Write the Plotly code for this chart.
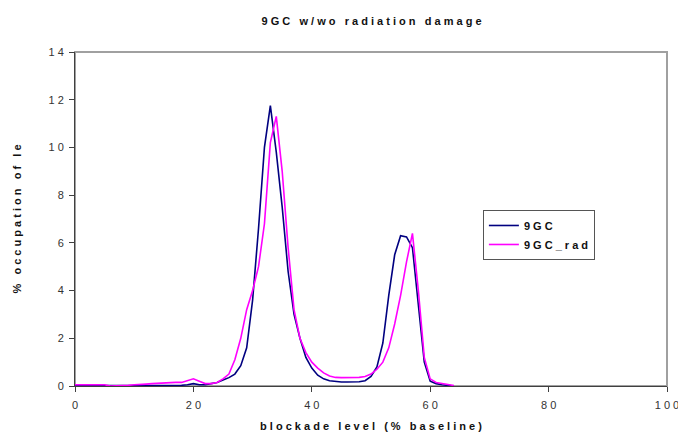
import plotly.graph_objects as go

# blockade level (% baseline), sampled every 1%
levels = list(range(0, 65))

# % occupation, untreated 9GC
occ_9gc = [
    0.02, 0.02, 0.0, 0.0, 0.0, 0.0, 0.0, 0.0, 0.0, 0.0,
    0.0, 0.0, 0.0, 0.0, 0.02, 0.02, 0.02, 0.02, 0.03, 0.05,
    0.10, 0.05, 0.05, 0.10, 0.15, 0.25, 0.35, 0.50, 0.85, 1.60,
    3.60, 6.60, 10.00, 11.75, 9.80, 7.50, 4.80, 3.00, 2.00, 1.20,
    0.75, 0.45, 0.30, 0.22, 0.18, 0.17, 0.17, 0.17, 0.18, 0.22,
    0.40, 0.80, 1.80, 3.80, 5.50, 6.30, 6.25, 5.80, 3.50, 1.00,
    0.20, 0.10, 0.05, 0.02, 0.0,
]

# % occupation, 9GC after radiation damage
occ_9gc_rad = [
    0.05, 0.05, 0.05, 0.05, 0.05, 0.05, 0.0, 0.0, 0.02, 0.03,
    0.05, 0.05, 0.08, 0.10, 0.12, 0.12, 0.14, 0.15, 0.15, 0.22,
    0.30, 0.20, 0.10, 0.10, 0.15, 0.30, 0.50, 1.10, 2.00, 3.20,
    4.00, 5.00, 6.80, 10.20, 11.30, 9.00, 5.80, 3.20, 2.00, 1.40,
    1.00, 0.75, 0.55, 0.42, 0.36, 0.35, 0.35, 0.35, 0.36, 0.40,
    0.50, 0.70, 1.00, 1.60, 2.60, 3.80, 5.20, 6.40, 4.00, 1.20,
    0.30, 0.15, 0.10, 0.05, 0.02,
]

x_ticks = [0, 20, 40, 60, 80, 100]
y_ticks = [0, 2, 4, 6, 8, 10, 12, 14]


def spaced(s):
    # widen letter spacing: single space between letters, wider gap between words
    return "\u00a0\u00a0\u00a0".join(" ".join(w) for w in s.split(" "))


FONT = "Liberation Sans, Arial, sans-serif"

fig = go.Figure()
fig.add_trace(go.Scatter(
    x=levels, y=occ_9gc, mode="lines", name=spaced("9GC"),
    line=dict(color="#000080", width=1.6),
))
fig.add_trace(go.Scatter(
    x=levels, y=occ_9gc_rad, mode="lines", name=spaced("9GC_rad"),
    line=dict(color="#FF00FF", width=1.6),
))

# grey plot-area border (top/right visible), axis lines drawn darker over it
fig.add_shape(type="rect", xref="paper", yref="paper", x0=0, x1=1, y0=0, y1=1,
              line=dict(color="#A0A0A0", width=2), layer="below")

fig.update_layout(
    width=678, height=432,
    margin=dict(l=75, r=11, t=52, b=46),
    paper_bgcolor="white", plot_bgcolor="white",
    font=dict(family=FONT, size=11, color="#222222"),
    title=dict(
        text=spaced("9GC w/wo radiation damage"),
        x=0.548, xanchor="center", y=0.95, yanchor="middle",
        font=dict(family=FONT, size=11, color="#111111", weight="bold"),
    ),
    showlegend=True,
    legend=dict(
        x=0.689, xanchor="left", y=0.527, yanchor="top",
        bgcolor="white", bordercolor="#555555", borderwidth=1,
        font=dict(family=FONT, size=11, color="#111111", weight="bold"),
        itemwidth=30, tracegroupgap=0,
    ),
    xaxis=dict(
        range=[0, 100], tickvals=x_ticks,
        ticktext=[spaced(str(v)) for v in x_ticks],
        showgrid=False, zeroline=False, automargin=False,
        showline=True, linecolor="#404040", linewidth=1,
        ticks="outside", ticklen=5, tickcolor="#404040",
        ticklabelstandoff=4, ticklabeloverflow="allow",
        tickfont=dict(family=FONT, size=11, color="#333333"),
        title=dict(text=spaced("blockade level (% baseline)"), standoff=16,
                   font=dict(family=FONT, size=11, color="#111111", weight="bold")),
    ),
    yaxis=dict(
        range=[0, 14], tickvals=y_ticks,
        ticktext=[spaced(str(v)) for v in y_ticks],
        showgrid=False, zeroline=False, automargin=False,
        showline=True, linecolor="#404040", linewidth=1,
        ticks="outside", ticklen=5, tickcolor="#404040",
        ticklabelstandoff=3,
        tickfont=dict(family=FONT, size=11, color="#333333"),
        title=dict(text=spaced("% occupation of le"), standoff=24,
                   font=dict(family=FONT, size=11, color="#111111", weight="bold")),
    ),
)

fig.write_html("out.html")
